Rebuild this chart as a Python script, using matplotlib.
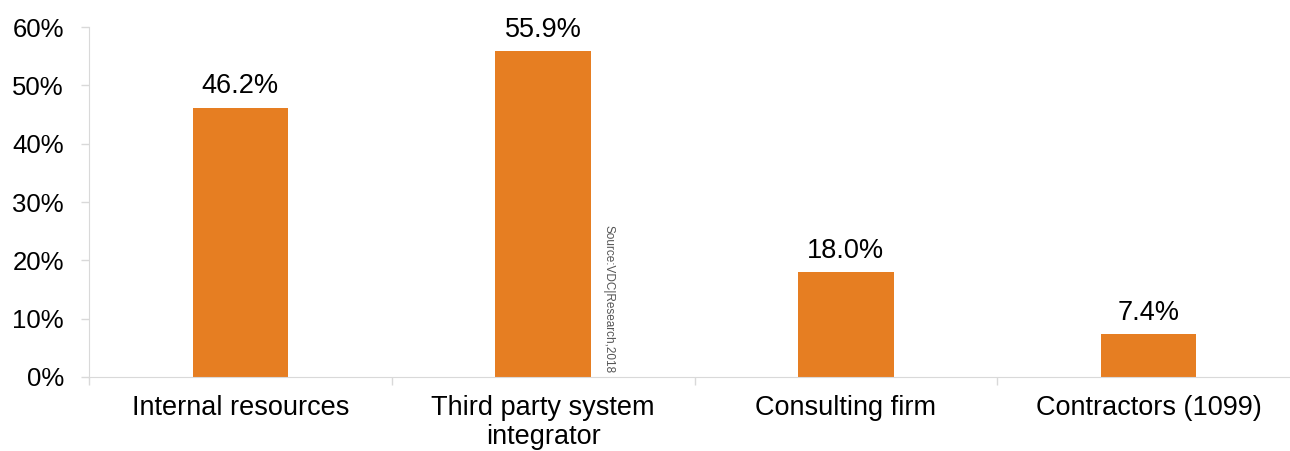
import matplotlib.pyplot as plt
import numpy as np

categorias = ["Internal resources", "Third party system\nintegrator", "Consulting firm", "Contractors (1099)"]
valores = [46.2, 55.9, 18.0, 7.4]
etiquetas_y = ["0%", "10%", "20%", "30%", "40%", "50%", "60%"]

NARANJA = "#E67E22"
GRIS = "#D9D9D9"

plt.rcParams['font.family'] = ['Liberation Sans', 'DejaVu Sans']

fig = plt.figure(figsize=(12.9, 4.51), dpi=100)
ax = fig.add_axes([89 / 1290, 1 - 377 / 451, 1211 / 1290, 350 / 451])

x = np.arange(len(categorias))
ax.bar(x, valores, width=0.315, color=NARANJA)

for xi, v in zip(x, valores):
    ax.annotate(f"{v:.1f}%", (xi, v), xytext=(0, 6), textcoords="offset points",
                ha="center", va="bottom", fontsize=19.5)

ax.set_xlim(-0.5, len(categorias) - 0.5)
ax.set_ylim(0, 60)
ax.set_yticks(np.arange(0, 61, 10))
ax.set_yticklabels(etiquetas_y, fontsize=18.5)
ax.set_xticks(x)
ax.set_xticklabels(categorias, fontsize=19.5, linespacing=1.15)
ax.set_xticks(np.arange(-0.5, len(categorias), 1), minor=True)

ax.tick_params(axis="x", which="major", length=0, pad=13)
ax.tick_params(axis="x", which="minor", length=6, color=GRIS, width=1)
ax.tick_params(axis="y", length=6, color=GRIS, width=1, pad=12)

for lado in ["top", "right"]:
    ax.spines[lado].set_visible(False)
ax.spines["left"].set_color(GRIS)
ax.spines["bottom"].set_color(GRIS)

# fuente rotada entre barras
ax.text(1.215, 26.0, "Source:VDC|Research,2018", rotation=-90, ha="center", va="top",
        fontsize=8.5, color="#555555")

plt.savefig("out.png")
plt.close()
